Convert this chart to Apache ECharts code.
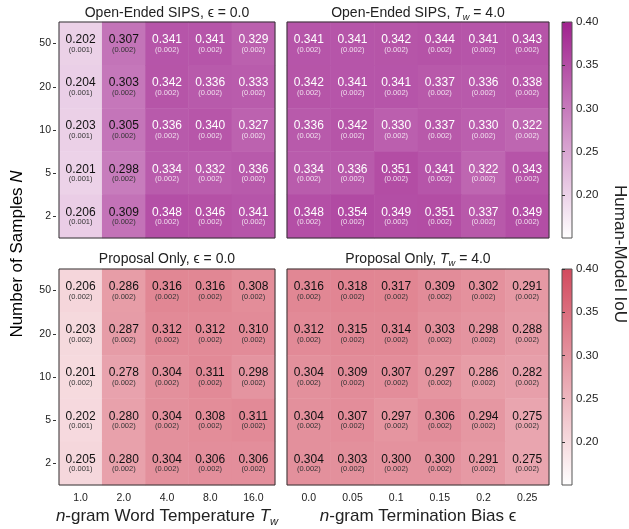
<!DOCTYPE html>
<html>
<head>
<meta charset="utf-8">
<script src="https://cdn.jsdelivr.net/npm/echarts@6/dist/echarts.min.js"></script>
<style>
  html, body { margin: 0; padding: 0; background: #fff; }
  #main { width: 629px; height: 529px; }
</style>
</head>
<body>
<div id="main"></div>
<script>
// rows are read top to bottom: N = 50, 20, 10, 5, 2
const nLabels = ['2', '5', '10', '20', '50'];
const tempLabels = ['1.0', '2.0', '4.0', '8.0', '16.0'];
const biasLabels = ['0.0', '0.05', '0.1', '0.15', '0.2', '0.25'];

const sipsTemp = [
  [0.202, 0.307, 0.341, 0.341, 0.329],
  [0.204, 0.303, 0.342, 0.336, 0.333],
  [0.203, 0.305, 0.336, 0.340, 0.327],
  [0.201, 0.298, 0.334, 0.332, 0.336],
  [0.206, 0.309, 0.348, 0.346, 0.341]
];
const sipsTempSe = [
  [0.001, 0.002, 0.002, 0.002, 0.002],
  [0.001, 0.002, 0.002, 0.002, 0.002],
  [0.001, 0.002, 0.002, 0.002, 0.002],
  [0.001, 0.002, 0.002, 0.002, 0.002],
  [0.001, 0.002, 0.002, 0.002, 0.002]
];
const sipsBias = [
  [0.341, 0.341, 0.342, 0.344, 0.341, 0.343],
  [0.342, 0.341, 0.341, 0.337, 0.336, 0.338],
  [0.336, 0.342, 0.330, 0.337, 0.330, 0.322],
  [0.334, 0.336, 0.351, 0.341, 0.322, 0.343],
  [0.348, 0.354, 0.349, 0.351, 0.337, 0.349]
];
const sipsBiasSe = [
  [0.002, 0.002, 0.002, 0.002, 0.002, 0.002],
  [0.002, 0.002, 0.002, 0.002, 0.002, 0.002],
  [0.002, 0.002, 0.002, 0.002, 0.002, 0.002],
  [0.002, 0.002, 0.002, 0.002, 0.002, 0.002],
  [0.002, 0.002, 0.002, 0.002, 0.002, 0.002]
];
const propTemp = [
  [0.206, 0.286, 0.316, 0.316, 0.308],
  [0.203, 0.287, 0.312, 0.312, 0.310],
  [0.201, 0.278, 0.304, 0.311, 0.298],
  [0.202, 0.280, 0.304, 0.308, 0.311],
  [0.205, 0.280, 0.304, 0.306, 0.306]
];
const propTempSe = [
  [0.002, 0.002, 0.002, 0.002, 0.002],
  [0.002, 0.002, 0.002, 0.002, 0.002],
  [0.002, 0.002, 0.002, 0.002, 0.002],
  [0.001, 0.002, 0.002, 0.002, 0.002],
  [0.001, 0.002, 0.002, 0.002, 0.002]
];
const propBias = [
  [0.316, 0.318, 0.317, 0.309, 0.302, 0.291],
  [0.312, 0.315, 0.314, 0.303, 0.298, 0.288],
  [0.304, 0.309, 0.307, 0.297, 0.286, 0.282],
  [0.304, 0.307, 0.297, 0.306, 0.294, 0.275],
  [0.304, 0.303, 0.300, 0.300, 0.291, 0.275]
];
const propBiasSe = [
  [0.002, 0.002, 0.002, 0.002, 0.002, 0.002],
  [0.002, 0.002, 0.002, 0.002, 0.002, 0.002],
  [0.002, 0.002, 0.002, 0.002, 0.002, 0.002],
  [0.002, 0.002, 0.002, 0.002, 0.002, 0.002],
  [0.002, 0.002, 0.002, 0.002, 0.002, 0.002]
];

const FONT = "'Liberation Sans', Arial, 'DejaVu Sans', sans-serif";
const PURPLE = '#a0218e';
const RED = '#d24a5e';
const INK = '#222';

function toCells(vals, ses) {
  const out = [];
  vals.forEach((row, r) => {
    row.forEach((v, c) => {
      out.push([c, nLabels.length - 1 - r, v, ses[r][c]]);
    });
  });
  return out;
}

function richStyle(size) {
  return {
    i: { fontStyle: 'italic', fontFamily: FONT, fontSize: size, color: INK, lineHeight: size + 4 },
    s: { fontStyle: 'italic', fontFamily: FONT, fontSize: size * 0.66, color: INK,
         verticalAlign: 'bottom', lineHeight: size * 0.66 },
    t: { fontFamily: FONT, fontSize: size, color: INK, lineHeight: size + 4 }
  };
}

const grids = [
  { left: 59, top: 22, width: 216, height: 216 },
  { left: 287, top: 22, width: 262, height: 216 },
  { left: 59, top: 269, width: 216, height: 216 },
  { left: 287, top: 269, width: 262, height: 216 }
].map(g => Object.assign(g, { show: true, z: 5, borderColor: '#333', borderWidth: 1, backgroundColor: 'transparent' }));

const bars = [
  { left: 562, top: 22, width: 10, height: 216, color: PURPLE },
  { left: 562, top: 269, width: 10, height: 216, color: RED }
];
bars.forEach(b => {
  grids.push({
    left: b.left, top: b.top, width: b.width, height: b.height,
    show: true, borderColor: '#555', borderWidth: 1,
    backgroundColor: { type: 'linear', x: 0, y: 0, x2: 0, y2: 1,
      colorStops: [{ offset: 0, color: b.color }, { offset: 1, color: '#ffffff' }] }
  });
});

function catX(i, labels, showLabels, name) {
  return {
    type: 'category', gridIndex: i, data: labels,
    axisLine: { show: false },
    axisTick: { show: false },
    axisLabel: { show: showLabels, fontFamily: FONT, fontSize: 10.5, color: INK, margin: 8 },
    splitLine: { show: false },
    name: name || '', nameLocation: 'middle', nameGap: 21,
    nameTextStyle: { fontFamily: FONT, fontSize: 17, color: INK, rich: richStyle(17) }
  };
}
function catY(i, showLabels) {
  return {
    type: 'category', gridIndex: i, data: nLabels, offset: 3,
    axisLine: { show: false },
    axisTick: { show: showLabels, alignWithLabel: true, length: 3, lineStyle: { color: '#333' } },
    axisLabel: { show: showLabels, fontFamily: FONT, fontSize: 10.5, color: INK, margin: 5 },
    splitLine: { show: false }
  };
}

const xAxes = [
  catX(0, tempLabels, false),
  catX(1, biasLabels, false),
  catX(2, tempLabels, true, '{i|n}{t|-gram Word Temperature }{i|T}{s|w}'),
  catX(3, biasLabels, true, '{i|n}{t|-gram Termination Bias ϵ}'),
  { type: 'value', gridIndex: 4, show: false },
  { type: 'value', gridIndex: 5, show: false }
];
const yAxes = [
  catY(0, true), catY(1, false), catY(2, true), catY(3, false)
];
[4, 5].forEach(i => {
  yAxes.push({
    type: 'value', gridIndex: i, min: 0.15, max: 0.40, interval: 0.05, position: 'right',
    axisLine: { show: false },
    axisTick: { show: true, length: 3, lineStyle: { color: '#333' } },
    axisLabel: { fontFamily: FONT, fontSize: 11.5, color: INK, margin: 4, showMinLabel: false,
                 formatter: v => v.toFixed(2) },
    splitLine: { show: false }
  });
});

const cellLabel = {
  show: true,
  formatter: p => {
    const v = p.value[2], se = p.value[3];
    const k = (p.seriesIndex < 2 && v > 0.315) ? 'w' : 'b';
    return '{m' + k + '|' + v.toFixed(3) + '}\n{s' + k + '|(' + se.toFixed(3) + ')}';
  },
  rich: {
    mw: { color: '#fff', fontFamily: FONT, fontSize: 12, lineHeight: 12 },
    sw: { color: 'rgba(255,255,255,0.8)', fontFamily: FONT, fontSize: 7.5, lineHeight: 8 },
    mb: { color: '#111', fontFamily: FONT, fontSize: 12, lineHeight: 12 },
    sb: { color: '#333', fontFamily: FONT, fontSize: 7.5, lineHeight: 8 }
  }
};

const panels = [
  [sipsTemp, sipsTempSe], [sipsBias, sipsBiasSe], [propTemp, propTempSe], [propBias, propBiasSe]
];
const series = panels.map((p, i) => ({
  type: 'heatmap', xAxisIndex: i, yAxisIndex: i,
  data: toCells(p[0], p[1]),
  label: cellLabel,
  itemStyle: { borderWidth: 0 },
  emphasis: { disabled: true }
}));

function panelTitle(text, cx, top) {
  return {
    text: text, left: cx, top: top, textAlign: 'center', padding: 0,
    textStyle: { fontFamily: FONT, fontSize: 14, fontWeight: 'normal', color: INK, rich: richStyle(14) }
  };
}

const option = {
  animation: false,
  backgroundColor: '#fff',
  title: [
    panelTitle('{t|Open-Ended SIPS, ϵ = 0.0}', 167, 4),
    panelTitle('{t|Open-Ended SIPS, }{i|T}{s|w}{t| = 4.0}', 418, 4),
    panelTitle('{t|Proposal Only, ϵ = 0.0}', 167, 250),
    panelTitle('{t|Proposal Only, }{i|T}{s|w}{t| = 4.0}', 418, 250)
  ],
  grid: grids,
  xAxis: xAxes,
  yAxis: yAxes,
  visualMap: [
    { show: false, type: 'continuous', seriesIndex: [0, 1], dimension: 2, min: 0.15, max: 0.40,
      inRange: { color: ['#ffffff', PURPLE] } },
    { show: false, type: 'continuous', seriesIndex: [2, 3], dimension: 2, min: 0.15, max: 0.40,
      inRange: { color: ['#ffffff', RED] } }
  ],
  graphic: [
    { type: 'text', x: 17, y: 254, rotation: Math.PI / 2,
      style: { text: '{t|Number of Samples }{i|N}', align: 'center', verticalAlign: 'middle',
               rich: richStyle(17) } },
    { type: 'text', x: 620, y: 254, rotation: -Math.PI / 2,
      style: { text: 'Human-Model IoU', align: 'center', verticalAlign: 'middle',
               font: '17px ' + FONT, fill: INK } }
  ],
  series: series
};

const chart = echarts.init(document.getElementById('main'));
chart.setOption(option);
</script>
</body>
</html>
